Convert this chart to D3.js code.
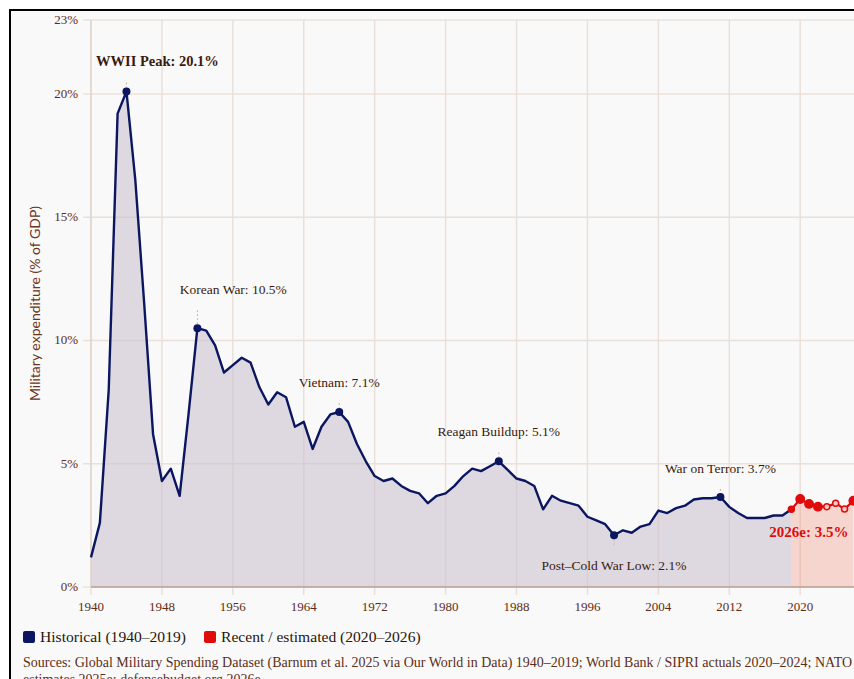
<!DOCTYPE html>
<html lang="en">
<head>
  <meta charset="utf-8">
  <title>Military expenditure (% of GDP)</title>
  <script src="https://d3js.org/d3.v7.min.js"></script>
  <style type="text/css">
    body { margin: 0; background: #fff; overflow: hidden; }
    #frame {
      position: absolute; left: 9px; top: 9px; width: 900px; height: 700px;
      border-top: 2px solid #000; border-left: 2px solid #000;
      background: #f9f9f9;
    }
    svg { position: absolute; left: 0; top: 0; }
    text { font-family: "Liberation Serif", "DejaVu Serif", serif; }
  </style>
</head>
<body>
  <div id="frame"></div>
  <script type="text/javascript">
    // historical series 1940-2019
    var histYears = [1940, 1941, 1942, 1943, 1944, 1945, 1946, 1947, 1948, 1949,
      1950, 1951, 1952, 1953, 1954, 1955, 1956, 1957, 1958, 1959,
      1960, 1961, 1962, 1963, 1964, 1965, 1966, 1967, 1968, 1969,
      1970, 1971, 1972, 1973, 1974, 1975, 1976, 1977, 1978, 1979,
      1980, 1981, 1982, 1983, 1984, 1985, 1986, 1987, 1988, 1989,
      1990, 1991, 1992, 1993, 1994, 1995, 1996, 1997, 1998, 1999,
      2000, 2001, 2002, 2003, 2004, 2005, 2006, 2007, 2008, 2009,
      2010, 2011, 2012, 2013, 2014, 2015, 2016, 2017, 2018, 2019];
    var histValues = [1.2, 2.6, 8.0, 19.2, 20.1, 16.5, 11.5, 6.2, 4.3, 4.8,
      3.7, 7.0, 10.5, 10.4, 9.8, 8.7, 9.0, 9.3, 9.1, 8.1,
      7.4, 7.9, 7.7, 6.5, 6.7, 5.6, 6.5, 7.0, 7.1, 6.7,
      5.8, 5.1, 4.5, 4.3, 4.4, 4.1, 3.9, 3.8, 3.4, 3.7,
      3.8, 4.1, 4.5, 4.8, 4.7, 4.9, 5.1, 4.75, 4.4, 4.3,
      4.1, 3.15, 3.7, 3.5, 3.4, 3.3, 2.85, 2.7, 2.55, 2.1,
      2.3, 2.2, 2.45, 2.55, 3.1, 3.0, 3.2, 3.3, 3.55, 3.6,
      3.6, 3.65, 3.25, 3.0, 2.8, 2.8, 2.8, 2.9, 2.9, 3.15];

    // recent actuals / estimates 2020-2026
    var recentYears = [2020, 2021, 2022, 2023, 2024, 2025, 2026];
    var recentValues = [3.57, 3.37, 3.26, 3.26, 3.4, 3.16, 3.5];

    // peaks / troughs that get a label
    var noteYears = [1944, 1952, 1968, 1986, 1999, 2011];
    var noteLabels = ["WWII Peak: 20.1%", "Korean War: 10.5%", "Vietnam: 7.1%",
      "Reagan Buildup: 5.1%", "Post\u2013Cold War Low: 2.1%", "War on Terror: 3.7%"];

    var xTicks = [1940, 1948, 1956, 1964, 1972, 1980, 1988, 1996, 2004, 2012, 2020];
    var yTicks = [0, 5, 10, 15, 20, 23];

    var legendLabels = ["Historical (1940\u20132019)", "Recent / estimated (2020\u20132026)"];
    var sourceLines = [
      "Sources: Global Military Spending Dataset (Barnum et al. 2025 via Our World in Data) 1940\u20132019; World Bank / SIPRI actuals 2020\u20132024; NATO",
      "estimates 2025e; defensebudget.org 2026e"
    ];

    var W = 900, H = 700;
    var plotLeft = 91, plotRight = 853.4, plotTop = 20, plotBottom = 587;
    var navy = "#0b1660", red = "#e00b0b";

    var hist = histYears.map(function (yr, i) { return { year: yr, value: histValues[i] }; });
    var recent = [hist[hist.length - 1]].concat(recentYears.map(function (yr, i) {
      return { year: yr, value: recentValues[i] };
    }));

    var x = d3.scaleLinear().domain([1940, 2026]).range([plotLeft, plotRight]);
    var y = d3.scaleLinear().domain([0, 23]).range([plotBottom, plotTop]);

    var svg = d3.select("body").append("svg")
      .attr("width", W)
      .attr("height", H);

    // grid
    svg.append("g").selectAll("line")
      .data(xTicks)
      .enter().append("line")
      .attr("x1", function (d) { return x(d); })
      .attr("x2", function (d) { return x(d); })
      .attr("y1", plotTop)
      .attr("y2", plotBottom + 8)
      .attr("stroke", "#ebe0d9")
      .attr("stroke-width", 1.5);

    svg.append("g").selectAll("line")
      .data(yTicks)
      .enter().append("line")
      .attr("x1", plotLeft - 8)
      .attr("x2", W)
      .attr("y1", function (d) { return y(d); })
      .attr("y2", function (d) { return y(d); })
      .attr("stroke", "#ebe0d9")
      .attr("stroke-width", 1.5);

    // areas
    var area = d3.area()
      .x(function (d) { return x(d.year); })
      .y0(plotBottom)
      .y1(function (d) { return y(d.value); });

    svg.append("path")
      .datum(hist)
      .attr("d", area)
      .attr("fill", "#c9c0cc")
      .attr("fill-opacity", 0.55);

    svg.append("path")
      .datum(recent)
      .attr("d", area)
      .attr("fill", "#ee9a85")
      .attr("fill-opacity", 0.38);

    // axes
    svg.append("line")
      .attr("x1", plotLeft).attr("x2", plotLeft)
      .attr("y1", plotTop).attr("y2", plotBottom)
      .attr("stroke", "#e2d4ca").attr("stroke-width", 1.5);

    svg.append("line")
      .attr("x1", plotLeft).attr("x2", W)
      .attr("y1", plotBottom).attr("y2", plotBottom)
      .attr("stroke", "#b9a096").attr("stroke-width", 1.5);

    svg.append("g").selectAll("text")
      .data(xTicks)
      .enter().append("text")
      .attr("x", function (d) { return x(d); })
      .attr("y", 611)
      .attr("text-anchor", "middle")
      .attr("font-size", 13)
      .attr("fill", "#5e2c16")
      .text(function (d) { return d; });

    svg.append("g").selectAll("text")
      .data(yTicks)
      .enter().append("text")
      .attr("x", 78)
      .attr("y", function (d) { return y(d) + 4; })
      .attr("text-anchor", "end")
      .attr("font-size", 13)
      .attr("fill", "#5e2c16")
      .text(function (d) { return d + "%"; });

    svg.append("text")
      .attr("transform", "translate(40," + (plotTop + plotBottom) / 2 + ") rotate(-90)")
      .attr("text-anchor", "middle")
      .style("font-family", "Lato, 'Open Sans', sans-serif")
      .attr("font-size", 14)
      .attr("fill", "#6b3420")
      .text("Military expenditure (% of GDP)");

    // lines
    var line = d3.line()
      .x(function (d) { return x(d.year); })
      .y(function (d) { return y(d.value); });

    svg.append("path")
      .datum(recent)
      .attr("d", line)
      .attr("fill", "none")
      .attr("stroke", red)
      .attr("stroke-width", 2.2)
      .attr("stroke-linejoin", "round");

    svg.append("path")
      .datum(hist)
      .attr("d", line)
      .attr("fill", "none")
      .attr("stroke", navy)
      .attr("stroke-width", 2.4)
      .attr("stroke-linejoin", "round");

    // recent points (2023-2025 drawn lighter)
    svg.append("g").selectAll("circle")
      .data(recent)
      .enter().append("circle")
      .attr("cx", function (d) { return x(d.year); })
      .attr("cy", function (d) { return y(d.value); })
      .attr("r", function (d, i) {
        if (i === 0) return 3;
        return (d.year >= 2023 && d.year <= 2025) ? 3 : 4.2;
      })
      .attr("fill", function (d) { return (d.year >= 2023 && d.year <= 2025) ? "#f7c9c0" : red; })
      .attr("stroke", red)
      .attr("stroke-width", 1.5);

    // annotations
    var notes = noteYears.map(function (yr, i) {
      return { year: yr, value: histValues[histYears.indexOf(yr)], label: noteLabels[i] };
    });
    // label placement: [dx, dy from dot]
    var notePos = {
      1944: [31, -25], 1952: [36, -34], 1968: [0, -25],
      1986: [0, -25], 1999: [0, 35], 2011: [0, -24]
    };

    notes.forEach(function (d) {
      var cx = x(d.year), cy = y(d.value), p = notePos[d.year];
      var below = p[1] > 0;
      svg.append("line")
        .attr("x1", cx).attr("x2", cx)
        .attr("y1", below ? cy + 4 : cy + p[1] + 16)
        .attr("y2", below ? cy + 10 : cy - 4)
        .attr("stroke", "#c9b3a5")
        .attr("stroke-dasharray", "2,2");
      svg.append("circle")
        .attr("cx", cx).attr("cy", cy).attr("r", 4)
        .attr("fill", navy);
      svg.append("text")
        .attr("x", cx + p[0])
        .attr("y", cy + p[1])
        .attr("text-anchor", "middle")
        .attr("font-size", d.year === 1944 ? 14.5 : 13.5)
        .attr("font-weight", d.year === 1944 ? "bold" : "normal")
        .attr("fill", "#3a1a0c")
        .text(d.label);
    });

    var last = recent[recent.length - 1];
    svg.append("text")
      .attr("x", x(last.year) - 5)
      .attr("y", y(last.value) + 36)
      .attr("text-anchor", "end")
      .attr("font-size", 15)
      .attr("font-weight", "bold")
      .attr("fill", red)
      .text(last.year + "e: " + last.value + "%");

    // legend
    var legX = [23, 204];
    var legColors = [navy, red];
    legendLabels.forEach(function (t, i) {
      svg.append("rect")
        .attr("x", legX[i]).attr("y", 631)
        .attr("width", 12).attr("height", 12)
        .attr("rx", 2)
        .attr("fill", legColors[i]);
      svg.append("text")
        .attr("x", legX[i] + 17).attr("y", 642)
        .attr("font-size", 15.6)
        .attr("fill", "#2a160c")
        .text(t);
    });

    // sources
    svg.append("g").selectAll("text")
      .data(sourceLines)
      .enter().append("text")
      .attr("x", 23)
      .attr("y", function (d, i) { return 667 + i * 17; })
      .attr("font-size", 14)
      .attr("fill", "#5c2f18")
      .text(function (d) { return d; });
  </script>
</body>
</html>
